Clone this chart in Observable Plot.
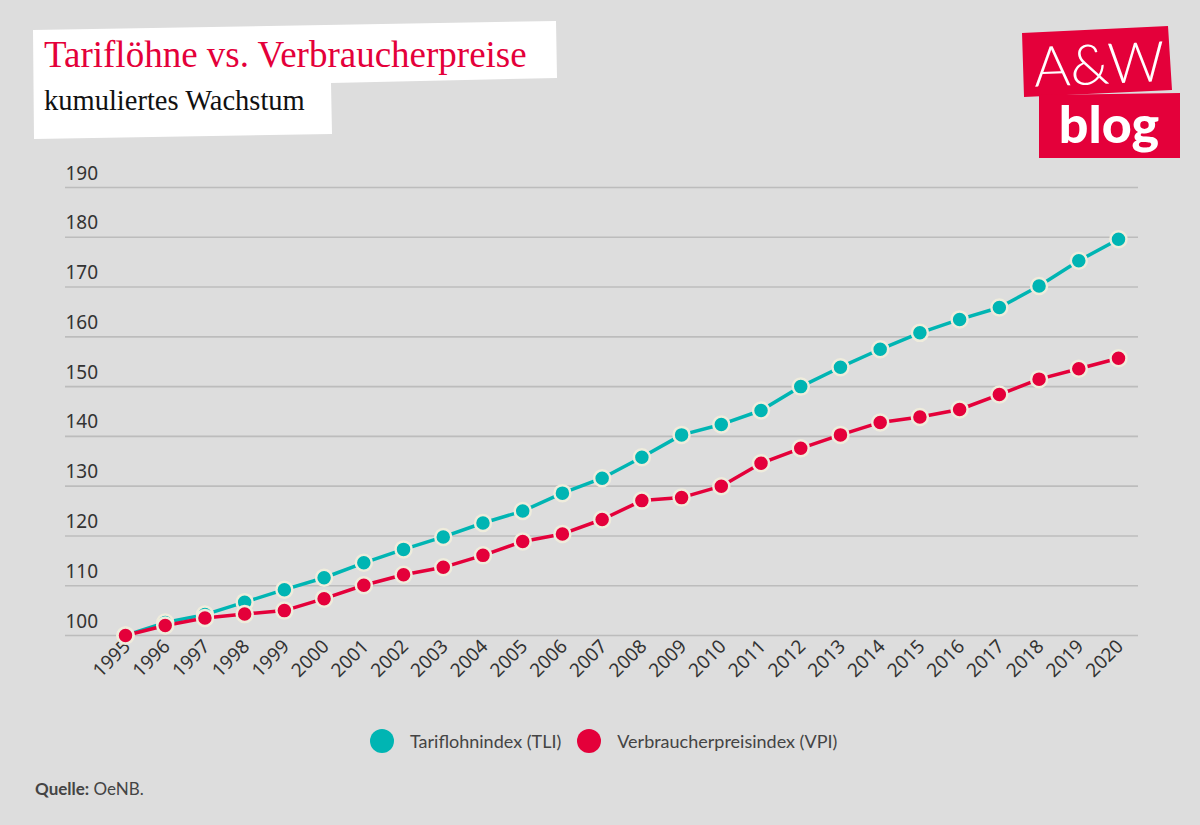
<!DOCTYPE html>
<html>
<head>
<meta charset="utf-8">
<script src="https://cdn.jsdelivr.net/npm/d3@7"></script>
<script src="https://cdn.jsdelivr.net/npm/@observablehq/plot@0.6"></script>
<style>
  html, body { margin: 0; padding: 0; }
  body { width: 1200px; height: 825px; background: #dddddd; overflow: hidden; position: relative; font-family: "Noto Sans", sans-serif; }
  #deco { position: absolute; left: 0; top: 0; }
  #chart { position: absolute; left: 0; top: 0; }
  .title { position: absolute; left: 44px; top: 33px; font-family: "Liberation Serif", serif; font-size: 37px; color: #e4003a; white-space: nowrap; }
  .subtitle { position: absolute; left: 44px; top: 85px; font-family: "Liberation Serif", serif; font-size: 28.5px; color: #111; white-space: nowrap; }
  .legend { position: absolute; top: 729px; left: 370px; display: flex; align-items: center; font-family: Lato, sans-serif; font-size: 18px; color: #444; white-space: nowrap; }
  .legend .sw { width: 24px; height: 24px; border-radius: 50%; display: inline-block; margin-right: 16px; }
  .legend .item { display: flex; align-items: center; margin-right: 16px; }
  .source { position: absolute; left: 35px; top: 778px; font-family: Lato, sans-serif; font-size: 17px; color: #444; }
  .source b { font-weight: 700; }
</style>
</head>
<body>
<svg id="deco" width="1200" height="825">
  <polygon points="33,30 556,21 557,78 331,83 332,134 34,139" fill="#ffffff"/>
  <polygon points="1022,33 1168,26 1172,90 1024,97" fill="#e4003a"/>
  <polygon points="1039,95 1180,93 1180,158 1039,158" fill="#e4003a"/>
  <text x="1099" y="84" text-anchor="middle" fill="#fff" font-family="Lato, sans-serif" font-weight="300" font-size="56" transform="rotate(-2.5 1099 62)">A&amp;W</text>
  <text x="1109" y="143" text-anchor="middle" fill="#fff" font-family="Lato, sans-serif" font-weight="900" font-size="52">blog</text>
</svg>
<div class="title">Tariflöhne vs. Verbraucherpreise</div>
<div class="subtitle">kumuliertes Wachstum</div>
<div id="chart"></div>
<div class="legend">
  <span class="item"><span class="sw" style="background:#00b5b3"></span><span id="lg1"></span></span>
  <span class="item"><span class="sw" style="background:#e4003a"></span><span id="lg2"></span></span>
</div>
<div class="source"><b>Quelle:</b> OeNB.</div>
<script>
const years = [1995,1996,1997,1998,1999,2000,2001,2002,2003,2004,2005,2006,2007,2008,2009,2010,2011,2012,2013,2014,2015,2016,2017,2018,2019,2020];
const tli = [100,102.6,104.2,106.7,109.2,111.6,114.6,117.3,119.8,122.6,125.0,128.6,131.6,135.8,140.3,142.4,145.2,150.0,153.9,157.5,160.8,163.5,165.9,170.2,175.3,179.6];
const vpi = [100,102.0,103.5,104.3,105.0,107.4,110.1,112.2,113.7,116.1,118.9,120.4,123.3,127.1,127.7,130.0,134.6,137.6,140.3,142.8,143.9,145.4,148.4,151.5,153.6,155.7];
const seriesNames = ["Tariflohnindex (TLI)", "Verbraucherpreisindex (VPI)"];
const colors = ["#00b5b3", "#e4003a"];
const yTicks = [100,110,120,130,140,150,160,170,180,190];

document.getElementById("lg1").textContent = seriesNames[0];
document.getElementById("lg2").textContent = seriesNames[1];

const data = [];
years.forEach((y, i) => {
  data.push({year: y, value: tli[i], series: seriesNames[0]});
  data.push({year: y, value: vpi[i], series: seriesNames[1]});
});

const chart = Plot.plot({
  width: 1200,
  height: 700,
  marginTop: 187,
  marginBottom: 65,
  marginLeft: 65,
  marginRight: 62,
  style: {background: "transparent", fontFamily: "'Noto Sans', sans-serif"},
  x: {domain: [1995, 2020], insetLeft: 60, insetRight: 20, axis: null},
  y: {domain: [100, 190], axis: null},
  color: {domain: seriesNames, range: colors},
  marks: [
    Plot.ruleY(yTicks, {stroke: "#bcbcbc", strokeWidth: 1.6}),
    Plot.text(yTicks, {y: d => d, frameAnchor: "left", text: d => String(d), textAnchor: "start", dy: -14, fontSize: 19, fill: "#333"}),
    Plot.text(years, {x: d => d, frameAnchor: "bottom", text: d => String(d), rotate: -45, textAnchor: "end", dx: 6, dy: 12, fontSize: 19, fill: "#333"}),
    Plot.line(data, {x: "year", y: "value", z: "series", stroke: "series", strokeWidth: 3.5}),
    Plot.dot(data, {x: "year", y: "value", fill: "series", stroke: "#efecdc", strokeWidth: 2.5, r: 8})
  ]
});
document.getElementById("chart").appendChild(chart);
</script>
</body>
</html>
